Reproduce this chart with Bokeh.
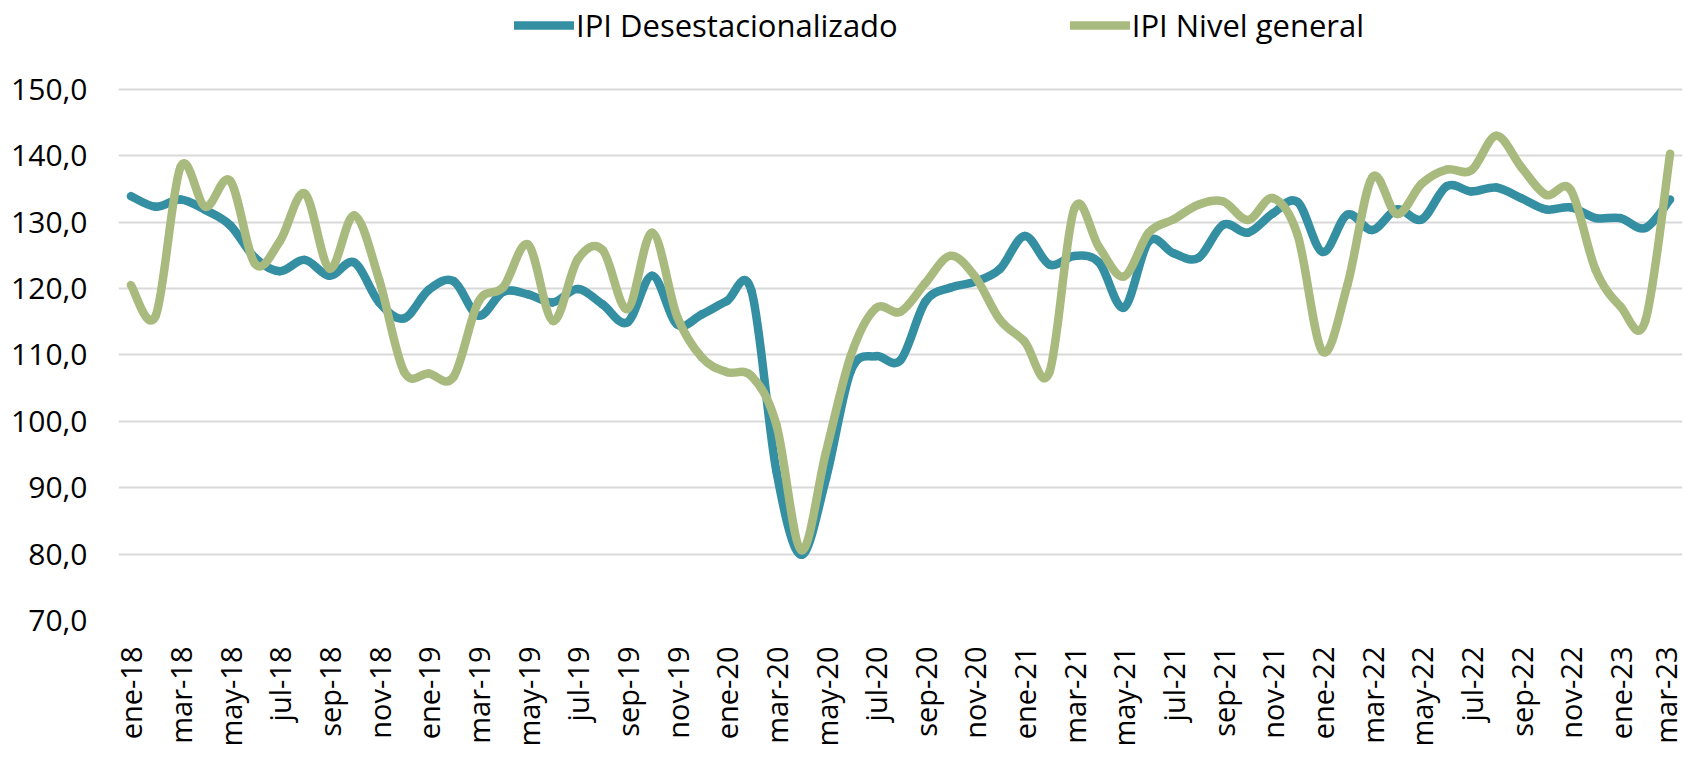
import math
from bokeh.plotting import figure
from bokeh.models import Range1d, FixedTicker, Legend, LegendItem
from bokeh.embed import file_html
from bokeh.resources import INLINE

# ---- data -------------------------------------------------------------
meses = ["ene", "feb", "mar", "abr", "may", "jun", "jul", "ago", "sep", "oct", "nov", "dic"]
anios = ["18", "19", "20", "21", "22", "23"]
fechas = [f"{m}-{a}" for a in anios for m in meses][:63]   # ene-18 .. mar-23

ipi_desestacionalizado = [
    133.9, 132.3, 133.4, 131.8, 129.5, 124.6, 122.6, 124.3, 121.9, 123.9,
    117.9, 115.5, 119.8, 121.1, 115.9, 119.5, 119.1, 117.9, 119.9, 117.6,
    114.9, 121.9, 114.6, 116.1, 118.1, 119.6, 92.5, 79.9, 91.4, 107.6,
    109.8, 109.2, 118.0, 120.1, 121.0, 122.9, 127.9, 123.6, 124.9, 123.9,
    117.1, 127.1, 125.3, 124.6, 129.6, 128.4, 131.3, 133.0, 125.5, 131.1,
    128.8, 131.9, 130.4, 135.4, 134.6, 135.2, 133.6, 131.9, 132.2, 130.6,
    130.6, 129.1, 133.4,
]
ipi_nivel_general = [
    120.5, 115.9, 138.3, 132.3, 136.2, 123.7, 127.1, 134.3, 123.0, 131.0,
    121.3, 107.5, 107.2, 106.7, 118.0, 120.2, 126.6, 115.1, 124.4, 125.8,
    116.9, 128.4, 115.8, 109.6, 107.4, 106.8, 99.5, 80.6, 95.4, 109.9,
    117.0, 116.5, 120.8, 124.9, 121.8, 115.3, 112.0, 107.4, 132.0, 126.2,
    121.8, 128.4, 130.4, 132.6, 133.1, 130.3, 133.6, 128.0, 110.5, 120.5,
    136.7, 131.2, 135.8, 137.9, 137.8, 143.0, 138.3, 134.1, 134.8, 122.8,
    117.3, 115.1, 140.3,
]
y_ticks = [70, 80, 90, 100, 110, 120, 130, 140, 150]
y_tick_labels = ["70,0", "80,0", "90,0", "100,0", "110,0", "120,0", "130,0", "140,0", "150,0"]

AZUL = "#348FA3"
VERDE = "#A9BA7F"
FONT = "Open Sans"

x_idx = list(range(len(fechas)))


def smooth_segments(xs, ys):
    """Excel-like smoothed line: cubic Bezier segments through the data points."""
    n = len(xs)
    seg = dict(x0=[], y0=[], x1=[], y1=[], cx0=[], cy0=[], cx1=[], cy1=[])
    for i in range(n - 1):
        i0, i3 = max(i - 1, 0), min(i + 2, n - 1)
        seg["x0"].append(xs[i]); seg["y0"].append(ys[i])
        seg["x1"].append(xs[i + 1]); seg["y1"].append(ys[i + 1])
        seg["cx0"].append(xs[i] + (xs[i + 1] - xs[i0]) / 6.0)
        seg["cy0"].append(ys[i] + (ys[i + 1] - ys[i0]) / 6.0)
        seg["cx1"].append(xs[i + 1] - (xs[i3] - xs[i]) / 6.0)
        seg["cy1"].append(ys[i + 1] - (ys[i3] - ys[i]) / 6.0)
    return seg


# frame spans the full height above the x axis so the legend (top strip) is not clipped;
# the value scale is unchanged (70 .. 150 occupy the same 533 px as in the reference)
HEIGHT, BOTTOM = 749, 127
PX_PER_UNIT = 533 / 80.0
y_top = 70 + (HEIGHT - BOTTOM) / PX_PER_UNIT

p = figure(
    width=1684, height=HEIGHT,
    output_backend="svg", toolbar_location=None,
    x_range=Range1d(-0.5, len(fechas) - 0.5),
    y_range=Range1d(70, y_top),
    min_border_left=118, min_border_right=2,
    min_border_top=0, min_border_bottom=BOTTOM,
)
p.outline_line_color = None
p.background_fill_color = "white"
p.border_fill_color = "white"

# grid
p.xgrid.visible = False
p.ygrid.ticker = FixedTicker(ticks=y_ticks)
p.ygrid.grid_line_color = "#D9D9D9"
p.ygrid.grid_line_width = 1.8

# y axis
p.yaxis.ticker = FixedTicker(ticks=y_ticks)
p.yaxis.major_label_overrides = {t: l for t, l in zip(y_ticks, y_tick_labels)}
p.yaxis.axis_line_color = None
p.yaxis.major_tick_line_color = None
p.yaxis.minor_tick_line_color = None
p.yaxis.major_label_standoff = 25
p.yaxis.major_label_text_font = FONT
p.yaxis.major_label_text_font_size = "30px"
p.yaxis.major_label_text_color = "#000000"

# x axis
x_ticks = x_idx[::2]
p.xaxis.ticker = FixedTicker(ticks=x_ticks)
p.xaxis.major_label_overrides = {i: fechas[i] for i in x_ticks}
p.xaxis.major_label_orientation = math.pi / 2
p.xaxis.axis_line_color = None
p.xaxis.major_tick_line_color = None
p.xaxis.minor_tick_line_color = None
p.xaxis.major_label_standoff = 20
p.xaxis.major_label_text_font = FONT
p.xaxis.major_label_text_font_size = "29px"
p.xaxis.major_label_text_color = "#000000"

# series (smoothed like Excel)
r_des = p.bezier(line_color=AZUL, line_width=8.5, line_cap="round",
                 **smooth_segments(x_idx, ipi_desestacionalizado))
r_gen = p.bezier(line_color=VERDE, line_width=8.5, line_cap="round",
                 **smooth_segments(x_idx, ipi_nivel_general))

legend = Legend(
    items=[LegendItem(label="IPI Desestacionalizado", renderers=[r_des]),
           LegendItem(label="IPI Nivel general", renderers=[r_gen])],
    orientation="horizontal",
    location=(396, 574),
    glyph_width=60, glyph_height=30,
    label_standoff=2, spacing=172,
    padding=0, margin=0,
    border_line_color=None, background_fill_alpha=0,
    label_text_font=FONT, label_text_font_size="31px",
    label_text_color="#000000",
)
p.add_layout(legend, "center")

open("out.html", "w").write(file_html(p, INLINE))
